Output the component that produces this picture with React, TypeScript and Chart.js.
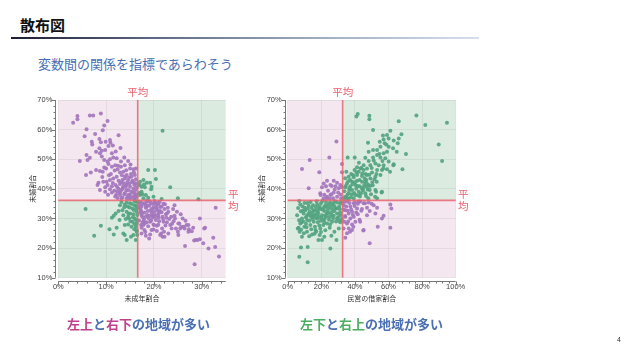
import React, { useEffect, useRef } from 'react';
import { Chart, registerables } from 'chart.js';

Chart.register(...registerables);

const JP_FONT = '"Noto Sans CJK JP", "Noto Sans", sans-serif';
const NUM_FONT = '"Liberation Sans", "Noto Sans CJK JP", sans-serif';

const PINK_BG = '#f5e7ef';
const GREEN_BG = '#dbebe0';
const PURPLE_PT = 'rgba(163,118,189,0.92)';
const GREEN_PT = 'rgba(82,163,128,0.92)';
const MEAN_COLOR = 'rgba(232,100,112,0.85)';
const MEAN_TEXT = '#e8606e';

// ---------- Left chart: 未成年割合 (x) vs 未婚割合 (y) ----------
const leftXTitle = '未成年割合';
const leftYTitle = '未婚割合';
const leftMeanX = 16.6;
const leftMeanY = 36.1;
const leftXRange = [0, 35];
const leftXSteps = [2, 10];

const leftUpperLeft: [number, number][] = [
  [3.1,62.3],[4.0,64.6],[4.0,63.5],[6.6,64.8],[7.3,64.8],[8.9,65.4],[10.3,62.9],[9.6,61.4],[9.3,59.8],[5.9,60.1],
  [5.5,57.8],[7.7,58.5],[12.6,58.1],[7.0,55.9],[7.1,55.0],[8.6,56.8],[8.9,55.7],[9.9,55.9],[10.8,56.5],[10.9,55.6],
  [10.5,54.5],[7.9,52.5],[8.6,53.7],[9.1,52.9],[9.8,53.1],[8.7,52.0],[11.2,52.0],[5.9,51.4],[4.5,49.4],[6.1,49.7],
  [6.6,50.5],[9.1,50.9],[9.6,49.7],[10.3,49.2],[10.8,50.0],[11.5,50.6],[12.2,50.3],[13.1,49.2],[13.8,50.6],[14.6,49.4],
  [7.9,46.4],[6.8,45.5],[5.8,44.7],[8.7,46.0],[9.3,45.8],[10.0,46.9],[10.5,48.4],[11.2,47.5],[11.9,48.0],[12.4,46.6],
  [13.1,47.5],[13.9,48.0],[15.0,46.9],[15.7,46.6],[16.2,46.9],[12.9,45.5],[13.6,45.8],[14.3,44.7],[15.2,45.0],[16.0,44.7],
  [8.4,42.1],[10.1,42.4],[10.8,43.0],[11.5,43.5],[12.2,44.1],[12.6,42.7],[13.4,43.0],[13.9,43.5],[14.6,43.0],[15.5,42.7],
  [16.2,43.2],[9.8,40.5],[11.2,40.9],[12.0,41.3],[12.9,41.6],[13.6,40.9],[14.3,41.3],[15.0,40.7],[15.9,41.3],[16.4,40.5],
  [12.6,40.0],[14.6,39.6],[15.7,40.0],[16.0,38.5],[15.0,37.9],[13.9,38.5],[12.9,37.9],[13.2,36.8],[14.3,36.8],[15.3,37.0],
  [16.4,37.3],[15.9,36.4],[12.3,39.2],[12.8,38.6],[13.3,39.8],[13.8,38.2],[14.2,39.4],[14.7,38.0],[15.2,39.1],[15.6,38.8],
  [16.1,39.6],[16.3,37.8],[13.1,42.2],[13.7,41.9],[14.4,42.1],[14.9,41.7],[15.4,42.3],[15.9,42.0],[16.4,41.8],[14.0,44.2],
  [14.8,43.8],[15.3,44.1],[13.5,40.3],[14.1,40.6],[15.8,37.5],[14.5,37.4],[13.4,37.1],[12.1,38.0],[11.7,39.4],[11.2,38.8],
  [10.8,39.9],[12.4,36.9],[8.2,41.3],[8.7,39.6],[10.3,41.3],[9.8,39.0],[9.4,42.4],[11.0,45.0],[11.8,46.2],[12.5,47.8],
  [13.3,44.6],[14.2,46.3],[15.1,48.2],[15.8,45.6],[10.6,44.6],[9.2,44.0],[11.4,42.0],[12.3,40.6],[13.0,39.0],[16.0,36.9],
  [14.9,36.7],[11.9,37.4],[10.4,38.0],[9.6,47.2],[12.0,52.6],[13.0,53.8],[11.4,54.6]
];

const leftUpperRight: [number, number][] = [
  [21.8,59.6],[18.8,46.4],[20.2,46.4],[20.4,43.3],[17.8,43.0],[18.5,42.1],[19.2,42.1],[17.1,42.4],[23.4,40.5],[17.4,40.7],
  [18.1,40.5],[19.4,39.9],[21.6,36.6],[25.0,36.8],[29.3,36.5],[17.4,39.0],[18.3,37.9],[18.8,37.0],[19.9,37.3],[17.8,36.8],
  [17.1,37.9],[17.0,41.3],[16.9,38.6],[17.6,38.2],[19.5,40.7],[17.9,41.5]
];

const leftLowerLeft: [number, number][] = [
  [5.7,33.2],[7.5,24.2],[8.9,27.5],[10.7,26.4],[11.2,30.2],[11.6,30.9],[11.6,24.6],[12.2,26.9],[12.8,29.5],[13.4,32.8],
  [13.6,24.9],[13.9,24.4],[14.3,22.7],[14.6,28.0],[14.8,30.0],[15.2,23.8],[15.7,24.4],[16.2,22.7],[15.9,26.4],[15.5,28.9],
  [12.9,34.5],[13.2,35.6],[13.9,34.7],[14.5,34.0],[15.0,35.1],[15.5,33.4],[16.0,34.5],[16.4,32.3],[15.7,31.4],[15.0,31.7],
  [14.3,32.3],[13.6,31.1],[14.6,30.6],[16.0,30.0],[16.4,28.3],[16.2,27.2],[15.3,27.2],[13.9,27.8],[16.4,25.5],[16.5,24.4],
  [16.5,35.6],[16.4,33.4],[12.6,32.5],[12.0,31.7],[16.2,35.9],[14.3,35.4],[14.9,33.7],[15.4,34.9],[15.8,32.9],[16.2,34.2],
  [16.5,31.2],[16.3,29.4],[15.6,30.4],[15.1,29.1],[14.7,31.6],[16.0,35.8],[16.4,26.0],[15.9,28.1],[13.8,33.8],[14.1,29.8]
];

const leftLowerRight: [number, number][] = [
  [17.3,35.4],[18.0,35.1],[18.7,35.7],[19.4,35.1],[20.2,35.4],[20.9,34.8],[21.6,34.0],[22.2,33.2],[17.4,34.0],[18.3,33.6],
  [19.0,34.3],[19.9,33.6],[20.6,33.2],[21.3,32.5],[17.3,32.5],[18.0,32.0],[18.7,32.5],[19.5,32.0],[20.2,31.4],[20.9,30.9],
  [21.8,30.6],[22.5,31.4],[23.0,32.3],[17.4,30.9],[18.3,30.6],[19.0,30.9],[19.7,30.2],[20.4,29.5],[21.1,29.1],[22.0,28.9],
  [22.7,28.7],[17.8,29.1],[18.5,28.7],[19.2,28.9],[19.9,28.0],[20.6,27.5],[17.3,27.8],[18.0,26.1],[19.2,24.6],[18.3,24.2],
  [21.5,24.9],[22.2,23.8],[23.4,27.8],[23.7,26.6],[24.1,29.1],[24.3,30.9],[24.3,34.5],[25.1,28.3],[25.7,27.2],[26.4,26.6],
  [26.8,27.8],[27.3,26.4],[27.9,25.7],[28.2,26.9],[25.1,24.4],[26.5,20.7],[28.5,14.5],[28.7,22.7],[29.6,23.0],[30.3,21.6],
  [31.4,19.9],[32.8,20.4],[33.6,17.2],[32.9,33.6],[29.6,30.0],[30.5,26.6],[30.7,26.9],[32.4,23.5],[25.0,25.5],[23.0,24.9],
  [23.6,30.6],[24.4,30.0],[29.1,22.7],[28.4,22.6],[26.2,27.2],[25.5,26.6],[24.8,32.3],[22.7,31.7],[21.3,24.4],[21.8,23.8],
  [22.1,25.5],[20.0,27.8],[19.5,26.1],[17.4,24.9],[17.8,27.8],[24.6,26.6],[25.3,28.3],[26.0,30.0],[27.2,25.5],[27.2,27.8],
  [16.9,35.6],[17.0,34.4],[17.2,33.1],[17.5,31.7],[17.7,30.4],[17.9,29.6],[18.2,34.6],[18.4,33.9],[18.6,31.2],[18.9,30.1],
  [19.1,35.8],[19.3,32.8],[19.6,31.1],[19.8,34.9],[20.0,32.4],[20.3,30.6],[20.5,33.7],[20.8,35.2],[21.0,31.8],[21.3,33.9],
  [21.6,32.1],[21.9,29.8],[22.3,34.8],[22.6,30.2],[17.4,26.9],[18.8,27.4],[19.9,26.3],[20.9,27.9],[21.7,26.6],[16.9,29.3],
  [17.1,31.9],[18.1,28.4],[19.4,29.2],[16.8,33.7],[18.5,36.0],[20.1,35.9],[17.6,35.0],[18.6,34.4],[19.6,33.4],[20.4,34.6],
  [21.2,35.6],[22.0,35.0],[21.0,30.2],[22.4,27.6],[23.2,29.8],[24.0,33.2],[23.8,28.2],[18.2,25.4],[19.0,23.2],[20.6,25.8],
  [17.6,28.6],[19.8,30.8],[20.8,32.6],[22.9,33.6],[25.6,31.4],[26.6,29.2]
];

// ---------- Right chart: 民営の借家割合 (x) vs 未婚割合 (y) ----------
const rightXTitle = '民営の借家割合';
const rightYTitle = '未婚割合';
const rightMeanX = 32.7;
const rightMeanY = 36.1;
const rightXRange = [0, 100];
const rightXSteps = [4, 20];

const rightUpperRight: [number, number][] = [
  [41.7,65.3],[40.9,64.4],[48.6,64.7],[48.6,63.5],[76.6,64.8],[81.9,61.6],[94.8,62.3],[66.1,62.8],[50.8,59.9],[61.1,59.6],
  [56.7,58.0],[59.1,58.2],[57.1,56.7],[60.1,57.0],[63.1,56.3],[67.7,58.4],[66.1,57.0],[47.8,55.6],[54.8,55.9],[57.7,55.4],
  [55.2,54.2],[60.1,54.2],[62.7,53.7],[65.5,55.4],[89.9,55.0],[91.9,49.4],[70.4,51.8],[68.3,46.6],[63.1,48.3],[48.2,52.5],
  [50.8,53.1],[53.2,53.1],[57.1,52.0],[59.1,52.5],[53.2,51.4],[55.2,50.6],[58.1,50.3],[60.1,49.2],[50.8,50.6],[48.2,49.4],
  [46.2,50.5],[49.2,48.0],[52.2,48.6],[54.2,48.0],[57.1,48.0],[59.1,46.6],[56.1,46.4],[53.2,46.4],[35.7,50.6],[39.9,50.6],
  [45.2,48.0],[43.3,46.9],[41.3,47.3],[42.3,45.8],[45.2,46.4],[47.2,46.9],[50.2,45.5],[47.2,44.7],[44.2,44.3],[41.3,44.7],
  [39.3,43.9],[36.3,44.1],[34.9,45.8],[38.3,42.4],[41.3,42.7],[44.2,42.4],[46.8,43.0],[49.2,43.5],[52.2,44.1],[55.2,44.7],
  [35.3,41.8],[37.3,40.9],[40.3,41.3],[42.9,40.9],[45.6,41.3],[48.2,41.3],[34.3,40.5],[44.2,40.2],[34.3,37.3],[36.3,38.5],
  [38.3,39.6],[40.3,37.9],[42.3,39.0],[44.6,39.8],[46.2,38.5],[47.2,40.7],[52.2,39.6],[56.1,39.0],[53.2,36.8],[35.3,36.8],
  [39.3,36.8],[53.0,42.4],[55.9,38.8],[52.6,39.0],[49.0,41.0],[46.0,42.4],[48.0,36.8],[52.0,37.3],[64.9,52.5],[62.9,48.0],
  [60.9,45.8],[56.9,46.9],[33.8,39.2],[34.6,41.0],[35.6,38.0],[36.8,40.2],[37.6,37.2],[38.6,41.6],[39.6,38.6],[40.8,40.0],
  [41.8,37.8],[42.8,43.0],[43.6,38.4],[44.8,39.4],[45.8,43.6],[46.6,37.6],[47.6,39.8],[48.6,44.8],[49.6,38.2],[50.6,41.2],
  [51.6,43.2],[37.2,43.0],[39.0,44.6],[41.0,45.6],[43.8,47.0],[46.4,45.0],[33.4,36.8],[35.0,37.0],[36.2,36.6],[34.2,43.6],
  [36.6,39.6],[38.2,38.2],[40.0,42.2],[41.6,41.0],[43.0,37.4],[44.4,45.2],[45.4,40.6],[47.0,42.0],[48.8,39.6],[50.0,47.0],
  [51.2,49.6],[52.8,45.0],[54.6,51.8],[56.4,49.4],[58.6,55.0],[42.4,48.8],[39.8,46.4],[37.8,45.0],[36.0,42.6],[50.4,42.2]
];

const rightUpperLeft: [number, number][] = [
  [29.0,56.0],[13.1,49.7],[8.5,46.7],[24.8,50.6],[18.8,45.6],[32.3,48.4],[32.3,45.6],[23.4,42.7],[27.4,42.7],[29.4,42.1],
  [21.4,41.8],[31.3,41.3],[25.4,41.3],[28.4,40.9],[20.4,40.5],[12.5,40.2],[30.4,40.2],[19.4,38.5],[23.4,37.3],[25.4,37.9],
  [27.4,38.8],[29.4,37.3],[31.3,38.1],[21.4,36.8],[27.0,36.8],[19.6,37.9],[22.8,40.9],[26.2,41.0],[23.2,36.8],[21.8,38.0],
  [24.0,39.4],[26.0,38.2],[28.0,39.8],[30.0,38.8],[31.8,36.8],[32.2,40.6],[25.0,36.7]
];

const rightLowerRight: [number, number][] = [
  [33.3,34.5],[35.3,35.7],[37.3,34.0],[39.3,35.1],[42.3,35.7],[45.2,35.1],[48.2,35.4],[34.3,32.8],[36.3,31.7],[38.3,32.3],
  [41.3,33.4],[44.2,33.2],[47.2,33.6],[34.3,30.6],[37.3,30.0],[39.3,30.6],[41.7,31.4],[35.3,28.3],[38.3,28.0],[40.3,28.9],
  [36.3,26.6],[38.3,26.1],[35.3,25.0],[34.3,23.5],[48.8,21.6],[45.2,26.1],[53.6,27.2],[61.1,26.9],[61.7,33.4],[61.1,34.7],
  [57.1,30.9],[56.1,30.0],[52.2,31.7],[48.8,32.5],[47.2,31.1],[53.2,33.6],[51.2,34.5],[33.7,28.9],[33.3,26.6],[45.0,25.9],
  [43.1,28.9],[39.1,27.2],[37.1,25.5],[50.0,35.0],[46.0,35.1],[43.1,35.7],[40.1,35.4],[33.6,35.6],[34.8,34.0],[35.8,32.6],
  [36.8,35.2],[37.8,33.0],[38.8,31.2],[39.8,34.2],[40.8,32.0],[41.8,35.0],[42.8,29.6],[43.8,32.6],[34.2,30.8],[36.0,29.0],
  [33.2,33.0]
];

const rightLowerLeft: [number, number][] = [
  [6.9,35.9],[7.5,34.7],[11.9,15.2],[6.9,17.1],[7.9,20.2],[11.9,20.4],[25.4,19.9],[29.0,22.7],[5.6,31.1],[6.5,26.9],
  [7.1,25.5],[8.5,23.8],[9.9,27.2],[11.5,25.5],[14.5,24.6],[19.0,24.4],[20.4,22.7],[21.8,23.8],[27.8,25.5],[30.4,26.6],
  [29.4,30.0],[31.3,28.7],[23.4,28.3],[25.0,26.9],[26.4,28.9],[19.4,26.6],[16.5,26.1],[13.5,27.8],[15.5,28.9],[17.9,28.7],
  [21.0,29.5],[11.5,29.5],[8.5,30.0],[7.5,28.3],[9.5,31.7],[11.5,30.9],[13.9,30.6],[16.5,30.2],[18.5,30.6],[20.4,31.1],
  [23.0,30.6],[25.0,30.6],[27.4,30.9],[29.4,31.7],[31.3,31.1],[10.5,32.8],[13.1,32.3],[15.5,32.8],[17.9,32.5],[19.4,33.2],
  [21.8,32.5],[23.8,32.8],[26.4,33.2],[28.4,33.4],[31.0,33.2],[12.5,34.3],[15.1,34.5],[17.5,34.7],[19.8,35.1],[22.4,34.5],
  [24.4,34.7],[27.0,35.1],[29.4,35.4],[31.3,35.1],[6.2,33.5],[7.8,32.4],[8.8,34.0],[9.2,29.0],[10.2,33.6],[10.9,28.2],
  [11.8,35.2],[12.2,31.5],[13.0,29.2],[13.6,35.6],[14.2,33.5],[14.8,29.8],[15.8,31.2],[16.2,27.2],[16.8,33.8],[17.2,35.8],
  [17.6,30.0],[18.2,31.8],[18.8,27.6],[19.0,34.0],[20.0,30.2],[20.6,35.9],[21.2,27.8],[21.6,33.8],[22.2,31.0],[22.8,35.6],
  [23.2,33.9],[24.0,31.8],[24.6,29.6],[25.2,35.4],[25.8,32.0],[26.4,34.4],[27.0,30.0],[27.6,32.4],[28.2,35.8],[28.8,29.0],
  [29.2,33.4],[30.0,30.4],[30.6,34.0],[31.2,32.0],[31.8,35.6],[32.2,29.8],[8.0,26.2],[9.6,25.0],[12.8,24.0],[16.0,24.8],
  [22.4,26.0],[26.0,24.2],[6.8,29.4],[19.8,25.4],[18.3,22.7],[6.0,26.6],[9.0,32.6],[10.8,30.4],[12.0,33.4],[13.4,31.2],
  [14.6,32.0],[15.2,30.8],[16.4,32.6],[17.2,31.4],[18.6,33.4],[19.6,29.2],[20.8,33.0],[22.0,29.8],[23.4,31.8],[24.8,33.6],
  [26.2,31.2],[27.8,34.2],[11.2,27.0],[14.0,26.4],[17.0,25.6],[21.8,28.6],[25.2,28.0],[8.2,28.6],[10.0,35.2],[30.8,29.2]
];

const yRange = [10, 70];
const ySteps = [2, 10];

type Pt = [number, number];

interface PanelProps {
  left: number;
  top: number;
  green: Pt[];
  purple: Pt[];
  meanX: number;
  meanY: number;
  xRange: number[];
  xSteps: number[];
  xTitle: string;
  yTitle: string;
  yAxisWidth: number;
}

function buildTicks(min: number, max: number, step: number) {
  const out: { value: number }[] = [];
  for (let v = min; v <= max + 1e-9; v += step) out.push({ value: Math.round(v * 1000) / 1000 });
  return out;
}

const CW = 225;
const CH = 230;
const PLOT_TOP = 15;
const PLOT_BOTTOM = 192.7;
const PLOT_RIGHT = 205.7;

function ScatterPanel(p: PanelProps) {
  const ref = useRef<HTMLCanvasElement | null>(null);
  useEffect(() => {
    if (!ref.current) return;
    const [xMinor, xMajor] = p.xSteps;
    const [yMinor, yMajor] = ySteps;
    const overlay = {
      id: 'quadOverlay',
      beforeDraw(chart: any) {
        const { ctx, chartArea: a, scales } = chart;
        const mx = scales.x.getPixelForValue(p.meanX);
        const my = scales.y.getPixelForValue(p.meanY);
        ctx.save();
        ctx.fillStyle = PINK_BG;
        ctx.fillRect(a.left, a.top, mx - a.left, my - a.top);
        ctx.fillRect(mx, my, a.right - mx, a.bottom - my);
        ctx.fillStyle = GREEN_BG;
        ctx.fillRect(mx, a.top, a.right - mx, my - a.top);
        ctx.fillRect(a.left, my, mx - a.left, a.bottom - my);
        ctx.restore();
      },
      afterDatasetsDraw(chart: any) {
        const { ctx, chartArea: a, scales } = chart;
        const mx = scales.x.getPixelForValue(p.meanX);
        const my = scales.y.getPixelForValue(p.meanY);
        ctx.save();
        ctx.strokeStyle = MEAN_COLOR;
        ctx.lineWidth = 1.6;
        ctx.beginPath();
        ctx.moveTo(mx, a.top);
        ctx.lineTo(mx, a.bottom);
        ctx.moveTo(a.left, my);
        ctx.lineTo(a.right, my);
        ctx.stroke();
        ctx.restore();
      },
      afterDraw(chart: any) {
        const { ctx, chartArea: a, scales } = chart;
        const mx = scales.x.getPixelForValue(p.meanX);
        const my = scales.y.getPixelForValue(p.meanY);
        ctx.save();
        ctx.strokeStyle = '#777';
        ctx.lineWidth = 1;
        const ax = Math.round(a.left - 3) + 0.5;
        const ay = Math.round(a.bottom + 3) + 0.5;
        ctx.beginPath();
        ctx.moveTo(ax, a.top);
        ctx.lineTo(ax, a.bottom);
        scales.y.ticks.forEach((t: any) => {
          const py = Math.round(scales.y.getPixelForValue(t.value)) + 0.5;
          const len = t.value % yMajor === 0 ? 4 : 2;
          ctx.moveTo(ax - len, py);
          ctx.lineTo(ax, py);
        });
        ctx.moveTo(a.left, ay);
        ctx.lineTo(a.right, ay);
        scales.x.ticks.forEach((t: any) => {
          const px = Math.round(scales.x.getPixelForValue(t.value)) + 0.5;
          const len = t.value % xMajor === 0 ? 4 : 2;
          ctx.moveTo(px, ay);
          ctx.lineTo(px, ay + len);
        });
        ctx.stroke();
        ctx.fillStyle = '#333';
        ctx.font = `7px ${JP_FONT}`;
        ctx.textAlign = 'center';
        ctx.textBaseline = 'middle';
        ctx.fillText(p.xTitle, (a.left + a.right) / 2, a.bottom + 20.5);
        ctx.save();
        ctx.translate(a.left - 26, (a.top + a.bottom) / 2);
        ctx.rotate(-Math.PI / 2);
        ctx.fillText(p.yTitle, 0, 0);
        ctx.restore();
        ctx.fillStyle = MEAN_TEXT;
        ctx.font = `10.5px ${JP_FONT}`;
        ctx.fillText('平均', mx, a.top - 8);
        ctx.fillText('平', a.right + 7.5, my - 6);
        ctx.fillText('均', a.right + 7.5, my + 6);
        ctx.restore();
      }
    };

    const toXY = (arr: Pt[]) => arr.map(([x, y]) => ({ x, y }));
    const tickFont = { family: NUM_FONT, size: 7.5 };

    const chart = new Chart(ref.current, {
      type: 'scatter',
      data: {
        datasets: [
          {
            data: toXY(p.green),
            backgroundColor: GREEN_PT,
            borderWidth: 0,
            pointRadius: 2.0,
            pointHoverRadius: 2.0,
          },
          {
            data: toXY(p.purple),
            backgroundColor: PURPLE_PT,
            borderWidth: 0,
            pointRadius: 2.0,
            pointHoverRadius: 2.0,
          },
        ],
      },
      options: {
        animation: false,
        responsive: false,
        devicePixelRatio: 1,
        layout: { padding: { left: 0, top: PLOT_TOP, right: CW - PLOT_RIGHT, bottom: 0 } },
        plugins: { legend: { display: false }, tooltip: { enabled: false } },
        events: [],
        scales: {
          x: {
            type: 'linear',
            min: p.xRange[0],
            max: p.xRange[1],
            afterBuildTicks: (scale: any) => {
              scale.ticks = buildTicks(p.xRange[0], p.xRange[1], xMinor);
            },
            afterFit: (scale: any) => {
              scale.height = CH - PLOT_BOTTOM;
            },
            ticks: {
              autoSkip: false,
              maxRotation: 0,
              padding: 5,
              color: '#444',
              font: tickFont,
              callback: (v: any) => (Number(v) % xMajor === 0 ? `${v}%` : ''),
            },
            grid: {
              drawTicks: false,
              color: (ctx: any) =>
                ctx.tick && ctx.tick.value % xMajor === 0 ? 'rgba(90,90,90,0.09)' : 'rgba(0,0,0,0)',
            },
            border: { display: false },
          },
          y: {
            type: 'linear',
            min: yRange[0],
            max: yRange[1],
            afterBuildTicks: (scale: any) => {
              scale.ticks = buildTicks(yRange[0], yRange[1], yMinor);
            },
            afterFit: (scale: any) => {
              scale.width = p.yAxisWidth;
            },
            ticks: {
              autoSkip: false,
              padding: 6,
              color: '#444',
              font: tickFont,
              callback: (v: any) => (Number(v) % yMajor === 0 ? `${v}%` : ''),
            },
            grid: {
              drawTicks: false,
              color: (ctx: any) =>
                ctx.tick && ctx.tick.value % yMajor === 0 ? 'rgba(90,90,90,0.09)' : 'rgba(0,0,0,0)',
            },
            border: { display: false },
          },
        },
      },
      plugins: [overlay],
    } as any);
    return () => chart.destroy();
  }, []);

  return (
    <canvas
      ref={ref}
      width={CW}
      height={CH}
      style={{ position: 'absolute', left: p.left, top: p.top, width: CW, height: CH }}
    />
  );
}

export default function App() {
  const blue = '#4a6fb3';
  return (
    <div
      style={{
        position: 'absolute',
        left: 0,
        top: 0,
        width: 640,
        height: 358,
        background: '#fff',
        overflow: 'hidden',
        fontFamily: JP_FONT,
      }}
    >
      <div
        style={{
          position: 'absolute',
          left: 20,
          top: 17,
          fontSize: 15,
          lineHeight: '16px',
          fontWeight: 700,
          color: '#111',
        }}
      >
        散布図
      </div>
      <div
        style={{
          position: 'absolute',
          left: 11,
          top: 36.5,
          width: 468,
          height: 2.5,
          background: 'linear-gradient(to right, #1b1e33 0%, #5d6880 30%, #9eabbf 65%, #d6dfec 100%)',
        }}
      />
      <div
        style={{
          position: 'absolute',
          left: 38,
          top: 56,
          fontSize: 13,
          lineHeight: '15px',
          color: blue,
        }}
      >
        変数間の関係を指標であらわそう
      </div>

      <ScatterPanel
        left={20}
        top={85}
        green={[...leftLowerLeft, ...leftUpperRight]}
        purple={[...leftUpperLeft, ...leftLowerRight]}
        meanX={leftMeanX}
        meanY={leftMeanY}
        xRange={leftXRange}
        xSteps={leftXSteps}
        xTitle={leftXTitle}
        yTitle={leftYTitle}
        yAxisWidth={38.3}
      />
      <ScatterPanel
        left={250}
        top={85}
        green={[...rightLowerLeft, ...rightUpperRight]}
        purple={[...rightUpperLeft, ...rightLowerRight]}
        meanX={rightMeanX}
        meanY={rightMeanY}
        xRange={rightXRange}
        xSteps={rightXSteps}
        xTitle={rightXTitle}
        yTitle={rightYTitle}
        yAxisWidth={37.7}
      />

      <div
        style={{
          position: 'absolute',
          left: 67,
          top: 316,
          fontSize: 13,
          lineHeight: '15px',
          fontWeight: 700,
          color: blue,
          whiteSpace: 'nowrap',
        }}
      >
        <span style={{ color: '#c0418d' }}>左上</span>と<span style={{ color: '#c0418d' }}>右下</span>の地域が多い
      </div>
      <div
        style={{
          position: 'absolute',
          left: 300,
          top: 316,
          fontSize: 13,
          lineHeight: '15px',
          fontWeight: 700,
          color: blue,
          whiteSpace: 'nowrap',
        }}
      >
        <span style={{ color: '#4cae62' }}>左下</span>と<span style={{ color: '#4cae62' }}>右上</span>の地域が多い
      </div>
      <div
        style={{
          position: 'absolute',
          left: 617,
          top: 336,
          fontSize: 7,
          lineHeight: '8px',
          color: '#333',
          fontFamily: NUM_FONT,
        }}
      >
        4
      </div>
    </div>
  );
}
